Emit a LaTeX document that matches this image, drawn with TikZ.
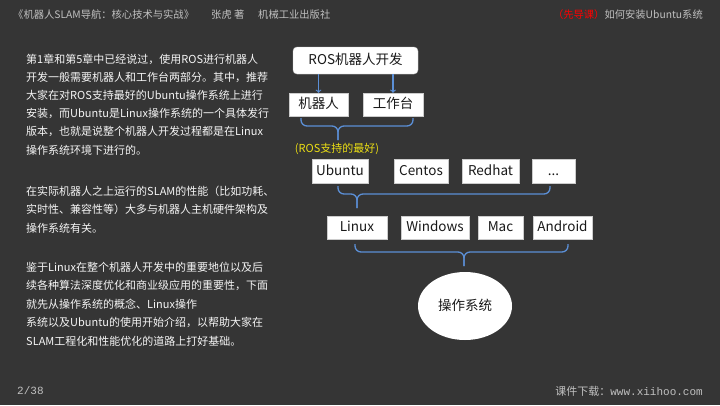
\documentclass[tikz,border=0pt]{standalone}
\usepackage{fontspec}
\usetikzlibrary{shapes.geometric}
\newfontfamily\cjk{Noto Sans CJK SC}
\newfontfamily\mono{Liberation Mono}
\definecolor{bg}{RGB}{53,53,53}
\definecolor{hdr}{RGB}{192,192,192}
\definecolor{lblue}{RGB}{91,143,214}
\definecolor{ylw}{RGB}{235,222,20}
\definecolor{ink}{RGB}{25,25,25}
\begin{document}
\begin{tikzpicture}[x=1pt,y=-1pt,
	box/.style={draw=gray!40,fill=white,text=ink,inner sep=0pt,minimum height=23pt,
		text height=11.2pt,text depth=2.3pt,font=\cjk\fontsize{13.5}{16}\selectfont},
	brc/.style={draw=lblue,line width=1.3pt,rounded corners=6pt},
	arr/.style={draw=lblue,line width=1.1pt,->},
	body/.style={anchor=west,inner sep=0pt,text=white!96!black,font=\cjk\fontsize{11}{13}\selectfont},
	head/.style={inner sep=0pt,text=hdr,font=\cjk\fontsize{10.3}{12}\selectfont},
	foot/.style={inner sep=0pt,text=hdr,font=\mono\fontsize{11}{13}\selectfont}]
			% background
			\fill[bg] (0,0) rectangle (720,405);
			\useasboundingbox (0,0) rectangle (720,405);
			% header
			\node[head,anchor=west] (book) at (13,15) {《机器人SLAM导航：核心技术与实战》};
			\node[head,anchor=west] (author) at (211,15) {张虎 著};
			\node[head,anchor=west] (press) at (258,15) {机械工业出版社};
			\node[head,anchor=east] (lesson) at (703,15) {{\color{red}（先导课）}如何安装Ubuntu系统};
			% text on the left
			\foreach \y/\t [count=\i] in {
				59/{第1章和第5章中已经说过，使用ROS进行机器人},
				77.2/{开发一般需要机器人和工作台两部分。其中，推荐},
				95.4/{大家在对ROS支持最好的Ubuntu操作系统上进行},
				113.6/{安装，而Ubuntu是Linux操作系统的一个具体发行},
				131.8/{版本，也就是说整个机器人开发过程都是在Linux},
				150/{操作系统环境下进行的。},
				191/{在实际机器人之上运行的SLAM的性能（比如功耗、},
				209.5/{实时性、兼容性等）大多与机器人主机硬件架构及},
				228/{操作系统有关。},
				267/{鉴于Linux在整个机器人开发中的重要地位以及后},
				285.5/{续各种算法深度优化和商业级应用的重要性，下面},
				304/{就先从操作系统的概念、Linux操作},
				322.5/{系统以及Ubuntu的使用开始介绍，以帮助大家在},
				341/{SLAM工程化和性能优化的道路上打好基础。}}
				\node[body] (line\i) at (26,\y) {\t};
			% ROS on top
			\node[box,rounded corners=4pt,minimum width=125pt,minimum height=27pt] (ros) at (355.5,60.5) {ROS机器人开发};
			\node[box,minimum width=59pt] (robot) at (318.5,104.5) {机器人};
			\node[box,minimum width=60pt] (bench) at (393,104.5) {工作台};
			\draw[arr] (ros.south -| robot.north) -- (robot.north);
			\draw[arr] (ros.south -| bench.north) -- (bench.north);
			\node[inner sep=0pt,text=ylw,font=\cjk\fontsize{11}{13}\selectfont] (best) at (337,149) {(ROS支持的最好)};
			% distributions
			\foreach \n/\x/\w/\t in {ubuntu/340/56/Ubuntu,centos/421/54/Centos,redhat/490.5/57/Redhat,more/553.5/43/.{}.{}.}
				\node[box,minimum width=\w pt,minimum height=24pt] (\n) at (\x,171) {\t};
			% systems
			\foreach \n/\x/\w/\t in {linux/357/60/Linux,windows/435/68/Windows,mac/500.5/45/Mac,android/562.5/59/Android}
				\node[box,minimum width=\w pt] (\n) at (\x,227.5) {\t};
			\node[box,ellipse,draw=none,minimum width=94pt,minimum height=68pt] (os) at (465,306) {操作系统};
			% braces
			\foreach \l/\r/\m/\y [count=\i] in {301/413/338/118,338/550/357/186,355/568/464/244}{
				\coordinate (tip\i) at (\m,\y+8);
				\draw[brc] (\l,\y) |- (tip\i) -- ++(0,14);
				\draw[brc] (\r,\y) |- (tip\i) -- ++(0,14);
			}
			% footer
			\node[foot,anchor=west] (page) at (17,391) {2/38};
			\node[foot,anchor=east] (site) at (703,391) {{\cjk 课件下载：}www.xiihoo.com};
\end{tikzpicture}
\end{document}
